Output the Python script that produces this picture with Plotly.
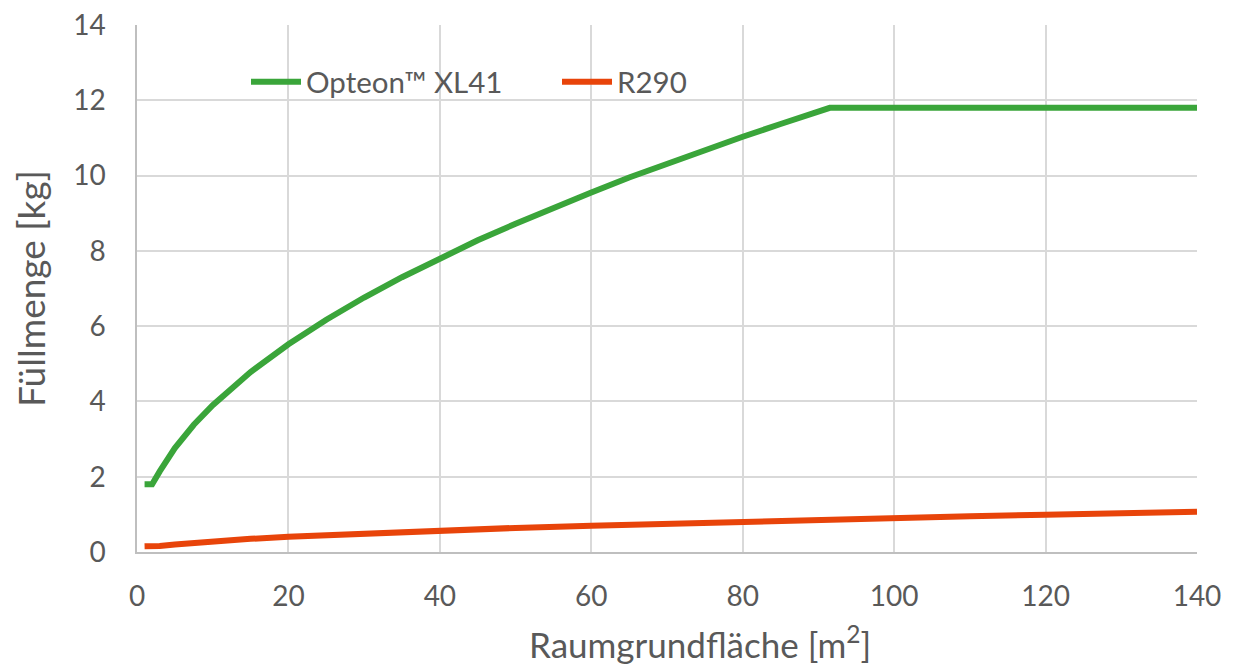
import plotly.graph_objects as go

area = [1, 2, 3, 5, 7.5, 10, 15, 20, 25, 30, 35, 40, 45, 50, 55, 60, 65, 70, 75, 80, 85, 91.5, 100, 110, 120, 130, 140]
opteon = [1.8, 1.8, 2.14, 2.76, 3.38, 3.9, 4.78, 5.52, 6.17, 6.76, 7.3, 7.8, 8.28, 8.72, 9.15, 9.55, 9.95, 10.32, 10.68, 11.03, 11.37, 11.8, 11.8, 11.8, 11.8, 11.8, 11.8]
r290_x = [1, 2, 3, 5, 10, 15, 20, 30, 40, 50, 60, 70, 80, 90, 100, 110, 120, 130, 140]
r290 = [0.15, 0.15, 0.16, 0.2, 0.286, 0.35, 0.405, 0.495, 0.572, 0.64, 0.70, 0.757, 0.81, 0.858, 0.904, 0.948, 0.99, 1.03, 1.07]
x_ticks = [0, 20, 40, 60, 80, 100, 120, 140]
y_ticks = [0, 2, 4, 6, 8, 10, 12, 14]
x_title = "Raumgrundfläche [m<sup>2</sup>]"
y_title = "Füllmenge [kg]"

FONT = "Lato, 'Open Sans', sans-serif"
TXT = "#595959"

PH = 527  # plot height in px
fig = go.Figure()
fig.add_trace(go.Scatter(x=area, y=opteon, mode="lines", name="Opteon™ XL41",
                         line=dict(color="#3AA53A", width=6)))
fig.add_trace(go.Scatter(x=r290_x, y=r290, mode="lines", name="R290",
                         line=dict(color="#E8440A", width=6)))

fig.add_shape(type="rect", xref="paper", yref="paper", layer="between",
              x0=(195 - 137) / 1060, x1=(737 - 137) / 1060,
              y0=(544 - 122) / PH, y1=(544 - 52) / PH,
              fillcolor="white", line=dict(width=0))

fig.add_annotation(text=x_title, xref="paper", yref="paper",
                   x=(700 - 137) / 1060, y=(544 - 634) / PH,
                   xanchor="center", yanchor="middle", showarrow=False,
                   font=dict(size=35, color=TXT))

fig.update_layout(
    width=1235, height=657,
    margin=dict(l=129, r=46, t=17, b=113),
    paper_bgcolor="white", plot_bgcolor="white",
    font=dict(family=FONT, color=TXT, size=28),
    showlegend=True,
    legend=dict(orientation="h", x=109 / 1060, y=(544 - 74) / PH,
                xanchor="left", yanchor="middle", bgcolor="rgba(0,0,0,0)",
                font=dict(size=29.5, color=TXT), itemwidth=50,
                entrywidth=246, entrywidthmode="pixels"),
    xaxis=dict(range=[0, 140], tickvals=x_ticks, ticktext=[str(v) for v in x_ticks],
               showgrid=True, gridcolor="#D9D9D9", gridwidth=1.5,
               showline=True, linecolor="#BFBFBF", linewidth=1.5,
               zeroline=False, ticks="", ticklen=0, automargin=False,
               ticklabelstandoff=19, ticklabeloverflow="allow",
               tickfont=dict(size=28, color=TXT)),
    yaxis=dict(range=[0, 14], tickvals=y_ticks, ticktext=[str(v) for v in y_ticks],
               showgrid=True, gridcolor="#D9D9D9", gridwidth=1.5,
               showline=True, linecolor="#BFBFBF", linewidth=1.5,
               zeroline=False, ticks="", ticklen=0, automargin=False,
               ticklabelstandoff=24, ticklabeloverflow="allow",
               tickfont=dict(size=28, color=TXT),
               title=dict(text=y_title, font=dict(size=37, color=TXT), standoff=17)),
)

fig.write_html("out.html")
